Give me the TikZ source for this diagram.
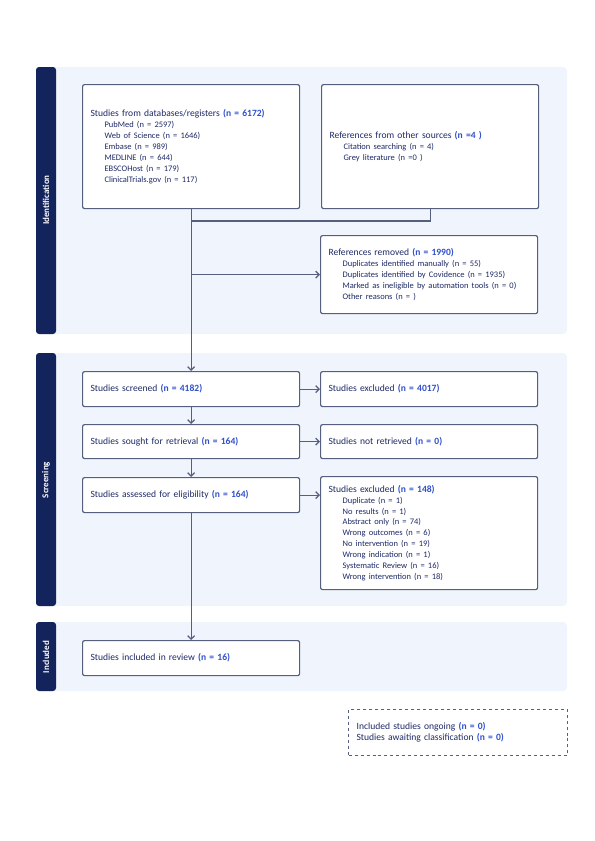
\documentclass[tikz,border=0pt]{standalone}
\usepackage{fontspec}
\setmainfont{Carlito}
\usetikzlibrary{arrows.meta}
\definecolor{bandbg}{RGB}{240,244,252}
\definecolor{bandnavy}{RGB}{19,35,91}
\definecolor{boxline}{RGB}{86,96,126}
\definecolor{txtnavy}{RGB}{30,42,102}
\definecolor{nblue}{RGB}{48,80,204}
\newcommand{\nval}[1]{\textcolor{nblue}{\textbf{#1}}}
\newcommand{\subline}[1]{\hspace*{14bp}{\fontsize{8.5}{11}\selectfont #1}}
\tikzset{
  flowbox/.style={draw=boxline, line width=1.2bp, fill=white,
    rounded corners=2bp, anchor=north west, inner xsep=8bp, inner ysep=2bp,
    align=left, text=txtnavy, font=\fontsize{9.6}{11}\selectfont},
  wide/.style={minimum width=217bp, text width=201bp},
  band/.style={fill=bandbg, rounded corners=4bp},
  sidebar/.style={fill=bandnavy, rounded corners=3bp},
  sidelabel/.style={rotate=90, text=white, font=\bfseries\fontsize{9}{10}\selectfont},
  link/.style={draw=boxline, line width=1.2bp},
  arr/.style={link, -{Straight Barb[length=3.5bp,width=7bp]}}
}
\begin{document}
\begin{tikzpicture}[x=1bp,y=-1bp]
  \useasboundingbox (0,0) rectangle (595,841);
  % bands
  \fill[band] (36,67) rectangle (567,334);
  \fill[sidebar] (36,67) rectangle (56,334);
  \node[sidelabel] (lblident) at (46,200) {Identification};
  \fill[band] (36,353) rectangle (567,606);
  \fill[sidebar] (36,353) rectangle (56,606);
  \node[sidelabel] (lblscreen) at (46,480) {Screening};
  \fill[band] (36,622) rectangle (567,691);
  \fill[sidebar] (36,622) rectangle (56,691);
  \node[sidelabel] (lblincl) at (46,657) {Included};

  % identification
  \node[flowbox, wide, minimum height=124bp] (dbs) at (82,84)
    {Studies from databases/registers \nval{(n = 6172)}\\
     \subline{PubMed (n = 2597)}\\
     \subline{Web of Science (n = 1646)}\\
     \subline{Embase (n = 989)}\\
     \subline{MEDLINE (n = 644)}\\
     \subline{EBSCOHost (n = 179)}\\
     \subline{ClinicalTrials.gov (n = 117)}};
  \node[flowbox, wide, minimum height=124bp] (other) at (321,84)
    {References from other sources \nval{(n =4 )}\\
     \subline{Citation searching (n = 4)}\\
     \subline{Grey literature (n =0 )}};
  \node[flowbox, wide, minimum height=78bp] (removed) at (320,235)
    {References removed \nval{(n = 1990)}\\
     \subline{Duplicates identified manually (n = 55)}\\
     \subline{Duplicates identified by Covidence (n = 1935)}\\
     \subline{Marked as ineligible by automation tools (n = 0)}\\
     \subline{Other reasons (n = )}};

  % screening
  \node[flowbox, wide, minimum height=35bp] (screened) at (82,371)
    {Studies screened \nval{(n = 4182)}};
  \node[flowbox, wide, minimum height=35bp] (excl) at (320,371)
    {Studies excluded \nval{(n = 4017)}};
  \node[flowbox, wide, minimum height=34bp] (sought) at (82,424)
    {Studies sought for retrieval \nval{(n = 164)}};
  \node[flowbox, wide, minimum height=34bp] (notret) at (320,424)
    {Studies not retrieved \nval{(n = 0)}};
  \node[flowbox, wide, minimum height=35bp] (assessed) at (82,477)
    {Studies assessed for eligibility \nval{(n = 164)}};
  \node[flowbox, wide, minimum height=113bp] (exclfull) at (320,476)
    {Studies excluded \nval{(n = 148)}\\
     \subline{Duplicate (n = 1)}\\
     \subline{No results (n = 1)}\\
     \subline{Abstract only (n = 74)}\\
     \subline{Wrong outcomes (n = 6)}\\
     \subline{No intervention (n = 19)}\\
     \subline{Wrong indication (n = 1)}\\
     \subline{Systematic Review (n = 16)}\\
     \subline{Wrong intervention (n = 18)}};

  % included
  \node[flowbox, wide, minimum height=35bp] (included) at (82,640)
    {Studies included in review \nval{(n = 16)}};
  \node[flowbox, dashed, rounded corners=0pt, minimum width=219bp,
    text width=203bp, minimum height=46bp] (ongoing) at (348,709)
    {Included studies ongoing \nval{(n = 0)}\\
     Studies awaiting classification \nval{(n = 0)}};

  % connectors
  \coordinate (merge) at (dbs.south |- 0,221);
  \coordinate (split) at (dbs.south |- removed.west);
  \draw[link] (other.south) |- (merge);
  \draw[arr] (dbs.south) -- (screened.north);
  \draw[arr] (split) -- (removed.west);
  \draw[arr] (screened.east) -- (excl.west);
  \draw[arr] (sought.east) -- (notret.west);
  \draw[arr] (assessed.east) -- (assessed.east -| exclfull.west);
  \draw[arr] (screened.south) -- (sought.north);
  \draw[arr] (sought.south) -- (assessed.north);
  \draw[arr] (assessed.south) -- (included.north);
\end{tikzpicture}
\end{document}
